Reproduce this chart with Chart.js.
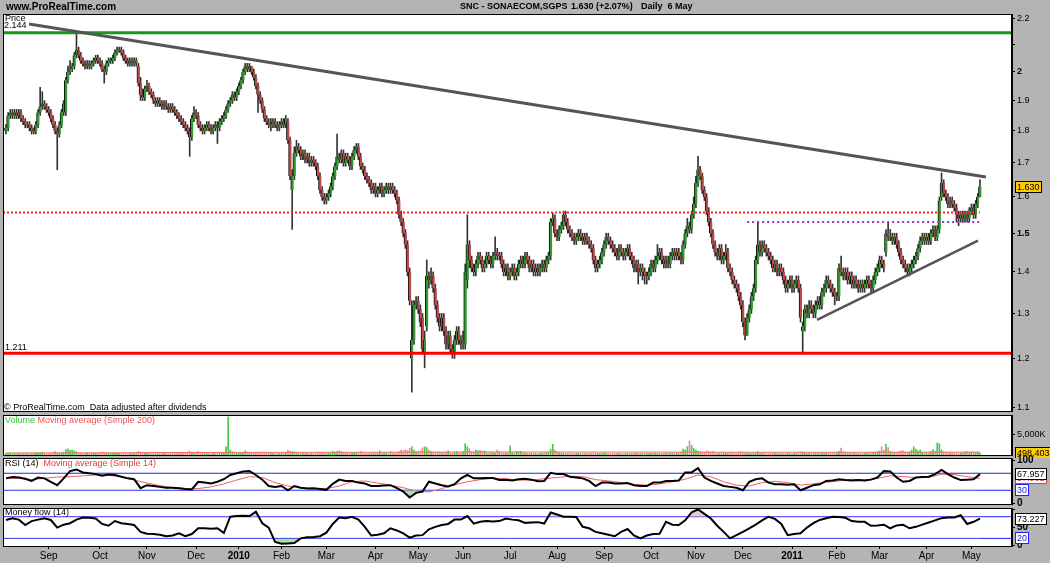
<!DOCTYPE html>
<html>
<head>
<meta charset="utf-8">
<script src="https://cdn.jsdelivr.net/npm/chart.js@4.4.1/dist/chart.umd.min.js"></script>
<style>
  body { margin: 0; width: 1050px; height: 563px; overflow: hidden; position: relative; background: #b4b4b4; font-family: "Liberation Sans", Arial, sans-serif; }
  canvas { position: absolute; left: 0; }
  .t { position: absolute; font-size: 9px; line-height: 1; white-space: nowrap; z-index: 5; }
  .b { font-weight: bold; font-size: 9px; }
</style>
</head>
<body>
<canvas id="price" width="1050" height="415" style="top:5px"></canvas>
<canvas id="volume" width="1050" height="46" style="top:412px"></canvas>
<canvas id="rsi" width="1050" height="52" style="top:455px"></canvas>
<canvas id="mf" width="1050" height="58" style="top:505px"></canvas>

<div class="t b" style="left:6px;top:2px;font-size:10px">www.ProRealTime.com</div>
<div class="t b" style="left:460px;top:2px">SNC - SONAECOM,SGPS</div>
<div class="t b" style="left:571px;top:2px">1.630 (+2.07%)</div>
<div class="t b" style="left:641px;top:2px">Daily&nbsp; 6 May</div>
<div class="t" style="left:5px;top:14px">Price</div>
<div class="t" style="left:4px;top:21px">2.144</div>
<div class="t" style="left:5px;top:343px">1.211</div>
<div class="t" style="left:4px;top:403px">© ProRealTime.com&nbsp; Data adjusted after dividends</div>
<div class="t" style="left:5px;top:416px"><span style="color:#33cc33">Volume</span> <span style="color:#ee5555">Moving average (Simple 200)</span></div>
<div class="t" style="left:5px;top:459px">RSI (14)&nbsp; <span style="color:#e04040">Moving average (Simple 14)</span></div>
<div class="t" style="left:5px;top:508px">Money flow (14)</div>
<div id="warn" class="t" style="left:300px;top:300px;color:red;font-size:14px"></div>

<script>
// daily candles, 31 Jul 2009 .. 6 May 2011 (index = trading day)
const opens = [
1.80,1.81,1.85,1.86,1.85,1.86,1.85,1.86,1.84,1.83,
1.82,1.82,1.81,1.80,1.80,1.82,1.86,1.88,1.89,1.88,
1.87,1.86,1.84,1.82,1.80,1.79,1.82,1.86,1.86,1.97,
2.00,2.01,2.02,2.06,2.08,2.06,2.04,2.03,2.02,2.03,
2.02,2.03,2.04,2.05,2.04,2.03,2.01,2.00,2.03,2.04,
2.04,2.05,2.07,2.08,2.08,2.07,2.05,2.04,2.03,2.04,
2.03,2.04,2.02,1.96,1.92,1.91,1.94,1.95,1.93,1.92,
1.90,1.89,1.90,1.89,1.88,1.89,1.88,1.87,1.88,1.87,
1.86,1.85,1.84,1.83,1.82,1.81,1.80,1.78,1.84,1.86,
1.85,1.82,1.81,1.80,1.81,1.82,1.81,1.80,1.81,1.82,
1.81,1.83,1.84,1.85,1.87,1.89,1.90,1.92,1.91,1.93,
1.95,1.97,2.00,2.02,2.01,2.02,2.00,1.98,1.95,1.92,
1.90,1.87,1.84,1.83,1.82,1.82,1.83,1.82,1.81,1.82,
1.83,1.82,1.83,1.77,1.62,1.66,1.73,1.75,1.74,1.72,
1.73,1.71,1.72,1.70,1.71,1.70,1.69,1.66,1.62,1.60,
1.59,1.60,1.61,1.63,1.66,1.69,1.72,1.71,1.73,1.70,
1.72,1.71,1.69,1.72,1.74,1.75,1.72,1.69,1.68,1.66,
1.65,1.64,1.62,1.63,1.61,1.62,1.63,1.61,1.62,1.63,
1.62,1.63,1.62,1.61,1.59,1.55,1.53,1.50,1.47,1.40,
1.20,1.24,1.32,1.33,1.31,1.29,1.21,1.27,1.39,1.38,
1.39,1.36,1.32,1.29,1.27,1.29,1.26,1.23,1.25,1.22,
1.21,1.24,1.26,1.24,1.23,1.23,1.38,1.47,1.43,1.41,
1.40,1.42,1.44,1.43,1.41,1.42,1.44,1.43,1.42,1.44,
1.45,1.44,1.44,1.42,1.40,1.41,1.39,1.40,1.41,1.39,
1.40,1.42,1.43,1.42,1.44,1.43,1.41,1.42,1.40,1.41,
1.40,1.41,1.42,1.41,1.43,1.44,1.53,1.54,1.50,1.49,
1.51,1.52,1.55,1.53,1.51,1.50,1.49,1.48,1.49,1.50,
1.49,1.48,1.49,1.48,1.47,1.46,1.43,1.41,1.42,1.43,
1.45,1.47,1.49,1.48,1.47,1.46,1.45,1.44,1.46,1.45,
1.44,1.45,1.46,1.44,1.43,1.41,1.42,1.40,1.41,1.40,
1.39,1.39,1.40,1.42,1.41,1.43,1.44,1.45,1.43,1.42,
1.43,1.42,1.44,1.45,1.44,1.45,1.44,1.43,1.47,1.50,
1.52,1.51,1.55,1.58,1.64,1.68,1.66,1.62,1.60,1.56,
1.53,1.50,1.47,1.45,1.44,1.46,1.43,1.44,1.45,1.41,
1.40,1.38,1.37,1.36,1.34,1.32,1.28,1.25,1.29,1.31,
1.34,1.36,1.43,1.47,1.45,1.47,1.46,1.45,1.44,1.43,
1.41,1.42,1.40,1.41,1.40,1.38,1.36,1.37,1.38,1.36,
1.37,1.38,1.36,1.26,1.27,1.31,1.30,1.32,1.31,1.30,
1.32,1.33,1.32,1.35,1.36,1.38,1.37,1.36,1.35,1.34,
1.34,1.41,1.40,1.39,1.40,1.38,1.39,1.37,1.38,1.37,
1.36,1.37,1.36,1.37,1.38,1.37,1.36,1.38,1.40,1.41,
1.43,1.42,1.45,1.50,1.49,1.49,1.48,1.49,1.47,1.45,
1.43,1.42,1.41,1.40,1.41,1.42,1.43,1.44,1.46,1.48,
1.49,1.48,1.49,1.48,1.50,1.51,1.49,1.51,1.60,1.64,
1.61,1.60,1.58,1.59,1.58,1.57,1.55,1.54,1.55,1.54,
1.55,1.54,1.56,1.57,1.55,1.58,1.60];
const highs = [
1.82,1.86,1.87,1.87,1.87,1.87,1.87,1.87,1.85,1.84,
1.83,1.83,1.82,1.81,1.83,1.87,1.945,1.93,1.90,1.89,
1.88,1.87,1.85,1.83,1.81,1.83,1.87,1.90,1.98,2.02,
2.04,2.03,2.07,2.144,2.09,2.07,2.05,2.04,2.04,2.04,
2.04,2.05,2.06,2.06,2.05,2.04,2.02,2.04,2.05,2.05,
2.06,2.08,2.09,2.09,2.09,2.08,2.06,2.05,2.05,2.05,
2.05,2.05,2.03,1.98,1.94,1.95,1.97,1.96,1.94,1.93,
1.91,1.91,1.91,1.90,1.90,1.90,1.89,1.89,1.89,1.88,
1.87,1.86,1.85,1.84,1.83,1.82,1.81,1.85,1.88,1.87,
1.86,1.83,1.82,1.82,1.83,1.83,1.82,1.82,1.83,1.83,
1.84,1.85,1.86,1.88,1.90,1.91,1.93,1.93,1.94,1.96,
1.98,2.01,2.03,2.03,2.03,2.02,2.01,1.99,1.96,1.93,
1.91,1.88,1.85,1.84,1.84,1.84,1.84,1.83,1.83,1.84,
1.84,1.85,1.84,1.78,1.68,1.75,1.77,1.76,1.75,1.74,
1.74,1.73,1.73,1.72,1.72,1.71,1.70,1.67,1.63,1.61,
1.61,1.62,1.64,1.67,1.70,1.79,1.73,1.74,1.74,1.73,
1.73,1.72,1.73,1.75,1.76,1.76,1.73,1.70,1.69,1.67,
1.66,1.65,1.64,1.64,1.63,1.64,1.64,1.63,1.64,1.64,
1.64,1.64,1.63,1.62,1.60,1.56,1.54,1.51,1.48,1.41,
1.33,1.33,1.34,1.34,1.32,1.30,1.26,1.43,1.40,1.41,
1.40,1.37,1.33,1.30,1.30,1.30,1.27,1.26,1.26,1.23,
1.25,1.27,1.27,1.25,1.26,1.42,1.55,1.48,1.44,1.42,
1.43,1.45,1.45,1.44,1.43,1.45,1.45,1.44,1.45,1.49,
1.46,1.45,1.45,1.43,1.42,1.42,1.41,1.42,1.42,1.41,
1.43,1.44,1.44,1.45,1.45,1.44,1.43,1.43,1.42,1.42,
1.42,1.43,1.43,1.44,1.45,1.54,1.555,1.55,1.51,1.52,
1.53,1.56,1.56,1.54,1.52,1.51,1.50,1.50,1.51,1.51,
1.50,1.50,1.50,1.49,1.48,1.47,1.44,1.43,1.44,1.46,
1.48,1.50,1.50,1.49,1.48,1.47,1.46,1.47,1.47,1.46,
1.46,1.47,1.47,1.45,1.44,1.43,1.43,1.42,1.42,1.41,
1.40,1.41,1.43,1.43,1.44,1.47,1.46,1.46,1.44,1.44,
1.44,1.45,1.46,1.46,1.46,1.46,1.45,1.48,1.51,1.54,
1.53,1.56,1.60,1.66,1.72,1.69,1.67,1.63,1.61,1.57,
1.54,1.51,1.48,1.46,1.47,1.47,1.45,1.47,1.46,1.42,
1.41,1.39,1.38,1.37,1.35,1.33,1.29,1.30,1.32,1.35,
1.37,1.44,1.53,1.48,1.48,1.48,1.47,1.46,1.45,1.44,
1.43,1.43,1.42,1.42,1.41,1.39,1.38,1.39,1.39,1.38,
1.39,1.39,1.37,1.28,1.32,1.32,1.33,1.33,1.32,1.33,
1.34,1.34,1.36,1.37,1.39,1.39,1.38,1.37,1.36,1.35,
1.42,1.44,1.41,1.41,1.41,1.40,1.40,1.39,1.39,1.38,
1.38,1.38,1.38,1.39,1.39,1.38,1.39,1.41,1.42,1.44,
1.44,1.43,1.51,1.53,1.51,1.50,1.50,1.50,1.48,1.46,
1.44,1.43,1.42,1.42,1.43,1.44,1.45,1.47,1.49,1.50,
1.50,1.50,1.50,1.51,1.52,1.52,1.52,1.60,1.67,1.65,
1.62,1.61,1.60,1.60,1.59,1.58,1.56,1.56,1.56,1.56,
1.56,1.57,1.58,1.58,1.59,1.61,1.65];
const lows = [
1.79,1.80,1.84,1.84,1.84,1.84,1.84,1.83,1.82,1.81,
1.81,1.80,1.79,1.79,1.79,1.81,1.85,1.87,1.87,1.86,
1.85,1.83,1.81,1.79,1.68,1.78,1.81,1.85,1.85,1.96,
1.99,2.00,2.01,2.05,2.05,2.03,2.02,2.01,2.01,2.01,
2.01,2.02,2.03,2.03,2.02,2.00,1.96,1.99,2.02,2.03,
2.03,2.04,2.06,2.07,2.06,2.04,2.03,2.02,2.02,2.02,
2.02,2.02,1.95,1.90,1.90,1.90,1.93,1.92,1.91,1.89,
1.88,1.88,1.88,1.87,1.87,1.87,1.86,1.86,1.86,1.85,
1.84,1.83,1.82,1.81,1.80,1.79,1.72,1.77,1.83,1.84,
1.81,1.80,1.79,1.79,1.80,1.80,1.79,1.79,1.80,1.76,
1.80,1.82,1.83,1.84,1.86,1.88,1.89,1.90,1.90,1.92,
1.94,1.96,1.99,2.00,2.00,1.99,1.97,1.94,1.86,1.89,
1.86,1.83,1.82,1.81,1.80,1.81,1.81,1.80,1.80,1.81,
1.81,1.81,1.76,1.65,1.51,1.65,1.72,1.73,1.71,1.71,
1.70,1.70,1.69,1.69,1.69,1.68,1.65,1.61,1.59,1.58,
1.58,1.59,1.60,1.62,1.65,1.68,1.70,1.70,1.69,1.69,
1.70,1.68,1.68,1.71,1.73,1.71,1.68,1.67,1.65,1.64,
1.63,1.61,1.61,1.60,1.60,1.61,1.60,1.60,1.61,1.61,
1.61,1.61,1.60,1.58,1.54,1.52,1.49,1.46,1.39,1.32,
1.13,1.23,1.31,1.30,1.27,1.21,1.18,1.26,1.36,1.37,
1.35,1.31,1.28,1.26,1.26,1.25,1.22,1.22,1.21,1.20,
1.20,1.23,1.23,1.22,1.22,1.22,1.36,1.41,1.40,1.39,
1.39,1.41,1.42,1.40,1.40,1.41,1.42,1.41,1.41,1.43,
1.43,1.43,1.41,1.39,1.39,1.38,1.38,1.39,1.38,1.38,
1.39,1.41,1.41,1.41,1.42,1.40,1.40,1.39,1.39,1.39,
1.39,1.40,1.40,1.40,1.42,1.43,1.52,1.49,1.48,1.48,
1.50,1.51,1.52,1.50,1.49,1.48,1.47,1.47,1.48,1.48,
1.47,1.47,1.47,1.46,1.45,1.42,1.40,1.40,1.41,1.42,
1.44,1.46,1.47,1.46,1.45,1.44,1.43,1.43,1.44,1.43,
1.43,1.44,1.43,1.42,1.40,1.40,1.37,1.39,1.38,1.37,
1.37,1.38,1.39,1.40,1.40,1.42,1.43,1.42,1.41,1.41,
1.41,1.41,1.43,1.43,1.43,1.43,1.42,1.42,1.46,1.49,
1.50,1.50,1.54,1.57,1.63,1.65,1.61,1.59,1.55,1.52,
1.49,1.46,1.44,1.43,1.43,1.42,1.42,1.43,1.40,1.39,
1.37,1.36,1.35,1.33,1.31,1.27,1.24,1.25,1.28,1.30,
1.33,1.35,1.42,1.44,1.44,1.45,1.44,1.43,1.42,1.40,
1.40,1.39,1.39,1.39,1.37,1.35,1.35,1.36,1.35,1.35,
1.36,1.35,1.28,1.21,1.26,1.29,1.29,1.30,1.29,1.29,
1.31,1.31,1.31,1.34,1.35,1.36,1.35,1.34,1.32,1.33,
1.33,1.39,1.38,1.38,1.37,1.37,1.36,1.36,1.36,1.35,
1.35,1.35,1.35,1.36,1.36,1.35,1.35,1.37,1.39,1.40,
1.41,1.40,1.44,1.48,1.48,1.47,1.47,1.46,1.44,1.42,
1.41,1.40,1.39,1.39,1.40,1.41,1.42,1.43,1.45,1.47,
1.47,1.47,1.47,1.47,1.49,1.48,1.48,1.50,1.59,1.60,
1.59,1.57,1.57,1.57,1.56,1.53,1.52,1.53,1.53,1.53,
1.53,1.53,1.55,1.54,1.54,1.57,1.60];
const closes = [
1.81,1.85,1.86,1.85,1.86,1.85,1.86,1.84,1.83,1.82,
1.82,1.81,1.80,1.80,1.82,1.86,1.88,1.89,1.88,1.87,
1.86,1.84,1.82,1.80,1.79,1.82,1.86,1.89,1.97,2.00,
2.01,2.02,2.06,2.08,2.06,2.04,2.03,2.02,2.03,2.02,
2.03,2.04,2.05,2.04,2.03,2.01,2.00,2.03,2.04,2.04,
2.05,2.07,2.08,2.08,2.07,2.05,2.04,2.03,2.04,2.03,
2.04,2.03,1.96,1.92,1.91,1.94,1.95,1.93,1.92,1.90,
1.89,1.90,1.89,1.88,1.89,1.88,1.87,1.88,1.87,1.86,
1.85,1.84,1.83,1.82,1.81,1.80,1.78,1.84,1.86,1.85,
1.82,1.81,1.80,1.81,1.82,1.81,1.80,1.81,1.82,1.81,
1.83,1.84,1.85,1.87,1.89,1.90,1.92,1.91,1.93,1.95,
1.97,2.00,2.02,2.01,2.02,2.00,1.98,1.95,1.92,1.90,
1.87,1.84,1.83,1.82,1.82,1.83,1.82,1.81,1.82,1.83,
1.82,1.84,1.77,1.66,1.66,1.73,1.75,1.74,1.72,1.73,
1.71,1.72,1.70,1.71,1.70,1.69,1.66,1.62,1.60,1.59,
1.60,1.61,1.63,1.66,1.69,1.72,1.71,1.73,1.70,1.72,
1.71,1.69,1.72,1.74,1.75,1.72,1.69,1.68,1.66,1.65,
1.64,1.62,1.63,1.61,1.62,1.63,1.61,1.62,1.63,1.62,
1.63,1.62,1.61,1.59,1.55,1.53,1.50,1.47,1.40,1.33,
1.24,1.32,1.33,1.31,1.28,1.22,1.24,1.39,1.38,1.39,
1.36,1.32,1.29,1.27,1.29,1.26,1.23,1.25,1.22,1.21,
1.24,1.26,1.24,1.23,1.24,1.40,1.47,1.43,1.41,1.40,
1.42,1.44,1.43,1.41,1.42,1.44,1.43,1.42,1.44,1.45,
1.44,1.44,1.42,1.40,1.41,1.39,1.40,1.41,1.39,1.40,
1.42,1.43,1.42,1.44,1.43,1.41,1.42,1.40,1.41,1.40,
1.41,1.42,1.41,1.43,1.44,1.53,1.54,1.50,1.49,1.51,
1.52,1.55,1.53,1.51,1.50,1.49,1.48,1.49,1.50,1.49,
1.48,1.49,1.48,1.47,1.46,1.43,1.41,1.42,1.43,1.45,
1.47,1.49,1.48,1.47,1.46,1.45,1.44,1.46,1.45,1.44,
1.45,1.46,1.44,1.43,1.41,1.42,1.40,1.41,1.40,1.39,
1.39,1.40,1.42,1.41,1.43,1.44,1.45,1.43,1.42,1.43,
1.42,1.44,1.45,1.44,1.45,1.44,1.43,1.47,1.50,1.52,
1.51,1.55,1.58,1.64,1.68,1.66,1.62,1.60,1.56,1.53,
1.50,1.47,1.45,1.44,1.46,1.43,1.44,1.45,1.41,1.40,
1.38,1.37,1.36,1.34,1.32,1.28,1.25,1.29,1.31,1.34,
1.36,1.43,1.47,1.45,1.47,1.46,1.45,1.44,1.43,1.41,
1.42,1.40,1.41,1.40,1.38,1.36,1.37,1.38,1.36,1.37,
1.38,1.36,1.29,1.27,1.31,1.30,1.32,1.31,1.30,1.32,
1.33,1.32,1.35,1.36,1.38,1.37,1.36,1.35,1.34,1.34,
1.41,1.40,1.39,1.40,1.38,1.39,1.37,1.38,1.37,1.36,
1.37,1.36,1.37,1.38,1.37,1.36,1.38,1.40,1.41,1.43,
1.42,1.41,1.50,1.49,1.49,1.48,1.49,1.47,1.45,1.43,
1.42,1.41,1.40,1.41,1.42,1.43,1.44,1.46,1.48,1.49,
1.48,1.49,1.48,1.50,1.51,1.49,1.51,1.59,1.64,1.61,
1.60,1.58,1.59,1.58,1.57,1.55,1.54,1.55,1.54,1.55,
1.54,1.56,1.57,1.55,1.58,1.60,1.63];

// volume, thousands of shares
const volumes = [
400,350,500,300,450,380,420,300,520,350,
400,300,450,380,600,550,480,700,400,350,
420,380,500,900,600,450,500,700,1300,1500,
1100,1200,1000,800,600,500,450,400,600,500,
350,400,450,380,500,700,600,450,400,350,
500,600,450,400,350,420,380,300,450,400,
350,500,900,700,600,500,450,400,380,420,
350,400,300,380,450,400,350,300,420,380,
400,450,500,600,550,700,1000,600,500,450,
900,500,400,350,420,380,300,400,350,450,
500,400,600,2000,9200,1200,800,600,500,450,
500,600,1000,700,500,450,600,700,500,450,
500,600,550,400,450,380,420,350,400,500,
450,600,1100,900,800,700,500,450,400,500,
450,400,350,420,380,400,600,700,500,450,
400,500,600,900,700,800,1000,800,600,500,
450,400,500,600,500,450,900,600,400,350,
400,450,380,500,600,1000,500,450,400,350,
800,500,450,600,800,1200,1000,1300,1100,1600,
2000,1200,800,900,1000,1700,2000,1800,1200,800,
700,600,800,700,600,500,700,1000,600,500,
700,900,600,500,800,2700,2000,1500,800,700,
1200,1000,1100,900,1000,600,500,700,600,500,
1200,700,500,450,600,500,2200,600,500,900,
800,900,600,500,450,400,500,450,400,350,
400,450,500,600,700,1400,2600,1200,800,600,
500,450,400,500,450,400,350,400,450,380,
400,350,450,400,500,600,500,450,400,350,
500,450,400,350,420,380,400,450,350,300,
400,350,450,400,500,450,400,350,500,450,
400,350,420,450,500,400,350,420,380,450,
400,500,450,400,500,600,700,1400,1200,2000,
3400,2300,1600,1200,900,800,700,600,1000,800,
700,900,600,500,450,600,500,450,400,500,
600,500,450,700,800,600,500,450,400,350,
500,600,800,500,450,400,350,420,380,400,
450,400,350,420,380,400,450,350,300,400,
350,500,800,700,500,450,400,500,450,400,
500,450,400,350,600,500,450,400,500,600,
900,1700,800,600,500,450,400,500,450,400,
350,400,450,400,500,450,600,700,800,1000,
2000,1200,2600,1800,900,700,600,500,800,1000,
1000,700,600,800,1200,2000,1400,1000,1200,700,
600,500,700,800,1300,900,2900,2700,1200,800,
600,500,450,600,500,450,400,500,600,700,
800,600,700,800,600,700,498];
const volMaStep = 19;
const volMa = [480,500,520,560,600,610,620,640,650,660,680,700,720,720,710,700,690,680,670,660,650,660,670,680,690];

// RSI(14) sampled every 3 days, its 14-day average every 6 days
const rsiStep = 3;
const rsiVals = [
58,61,60,57,52,60,58,50,42,58,
75,79,72,70,68,64,67,66,62,58,
56,35,42,40,38,36,36,35,33,32,
50,48,46,50,56,66,70,74,75,66,
55,40,38,40,30,40,36,34,35,33,
31,45,55,52,52,48,46,40,40,41,
42,35,27,13,24,27,50,46,42,39,
44,58,66,58,58,59,59,54,55,53,
56,57,55,51,52,71,68,68,62,60,
58,52,40,48,48,46,46,47,42,40,
40,48,48,52,52,53,72,72,82,60,
52,46,40,38,36,30,50,56,58,48,
44,44,43,44,30,36,42,44,52,53,
56,54,53,54,53,55,60,75,74,60,
50,52,60,61,62,68,78,68,60,54,
55,56,68];
const rsiMaStep = 6;
const rsiMa = [
58,58,55,58,61,62,64,66,65,62,
54,47,41,36,34,34,38,45,54,62,
60,48,40,36,33,34,40,50,52,47,
42,36,28,26,34,43,50,55,58,57,
54,54,57,60,63,62,55,52,48,44,
42,45,50,56,66,62,50,42,40,48,
51,48,42,45,49,52,56,54,58,64,
62,60,60,68,67,62,58];

// Money flow(14) sampled every 3 days
const mfStep = 3;
const mfVals = [
71,76,72,57,68,72,76,71,50,58,
62,72,78,77,75,60,55,68,62,60,
57,38,33,32,30,26,28,34,26,32,
48,48,47,48,35,80,82,83,82,94,
62,50,10,5,6,7,20,23,24,26,
36,60,78,76,80,72,52,28,30,34,
48,42,34,22,28,29,45,52,57,60,
72,72,82,61,66,68,67,68,75,72,
70,63,64,65,61,92,86,80,80,79,
52,48,38,34,30,26,38,46,28,20,
28,32,33,66,58,57,70,92,100,88,
75,55,38,20,29,38,48,58,70,80,
74,60,29,32,34,50,62,71,76,80,
79,77,68,66,66,55,56,58,48,56,
58,48,52,58,64,70,76,78,78,84,
60,66,75];

const lastClose = 1.630, lastVolume = 498403, lastRsi = 67.957, lastMf = 73.227;

// reference levels and trend lines
const resistancePrice = 2.144, supportPrice = 1.211;
const dottedRedPrice = 1.556;
const dottedPurplePrice = 1.530, dottedPurpleFrom = 347, dottedPurpleTo = 456;
const upperTrendIdx = [10.8, 458.8], upperTrendPrice = [2.178, 1.658];
const lowerTrendIdx = [379.7, 455.1], lowerTrendPrice = [1.285, 1.480];

const priceTicks = [2.2, 2.1, 2, 1.9, 1.8, 1.7, 1.6, 1.5, 1.4, 1.3, 1.2, 1.1];
const priceTickLabels = ['2.2', '', '2', '1.9', '1.8', '1.7', '1.6', '1.5', '1.4', '1.3', '1.2', '1.1'];
const monthTickIdx = [20, 44, 66, 89, 109, 129, 150, 173, 193, 214, 236, 258, 280, 302, 323, 345, 368, 389, 409, 431, 452];
const monthLabels = ['Sep', 'Oct', 'Nov', 'Dec', '2010', 'Feb', 'Mar', 'Apr', 'May', 'Jun', 'Jul', 'Aug', 'Sep', 'Oct', 'Nov', 'Dec', '2011', 'Feb', 'Mar', 'Apr', 'May'];
const rsiTicks = [0, 100], rsiTickLabels = ['0', '100'];
const mfTicks = [0, 50, 100], mfTickLabels = ['0', '50', ''];

const lens = [opens.length, highs.length, lows.length, closes.length, volumes.length];
if (new Set(lens).size > 1) document.getElementById('warn').textContent = 'length mismatch ' + lens.join(',');

Chart.defaults.font.family = '"Liberation Sans", Arial, sans-serif';
Chart.defaults.font.size = 9;
Chart.defaults.color = '#000';

const X_MIN = -1.4, X_MAX = 471;
const idx = closes.map((_, i) => i);
const up = i => closes[i] >= opens[i];

// white panel, black frame, value boxes on the right axis
const panelPlugin = {
  id: 'panel',
  beforeDraw(chart) {
    const { ctx, chartArea: a } = chart;
    ctx.save();
    ctx.fillStyle = '#fff';
    ctx.fillRect(a.left, a.top, a.right - a.left, a.bottom - a.top);
    ctx.restore();
  },
  afterDraw(chart, args, opts) {
    const { ctx, chartArea: a } = chart;
    ctx.save();
    ctx.strokeStyle = '#000';
    ctx.lineWidth = 1;
    ctx.strokeRect(a.left + 0.5, a.top + 0.5, a.right - a.left - 1, a.bottom - a.top);
    (opts.badges || []).forEach(b => {
      let y = chart.scales.y.getPixelForValue(b.value);
      if (b.maxY) y = Math.min(y, b.maxY);
      ctx.font = '9px "Liberation Sans", Arial, sans-serif';
      const w = Math.round(ctx.measureText(b.text).width) + 4;
      const x = a.right + 3;
      ctx.fillStyle = b.fill;
      ctx.fillRect(x, Math.round(y) - 6, w, 12);
      ctx.strokeStyle = b.stroke;
      ctx.strokeRect(x + 0.5, Math.round(y) - 5.5, w - 1, 11);
      ctx.fillStyle = b.color;
      ctx.textBaseline = 'middle';
      ctx.fillText(b.text, x + 2, Math.round(y) + 0.5);
    });
    ctx.restore();
  }
};

const xScale = (display) => ({
  type: 'linear', min: X_MIN, max: X_MAX, display, offset: false,
  position: 'bottom',
  afterBuildTicks: s => { s.ticks = monthTickIdx.map(v => ({ value: v })); },
  afterFit: s => { s.height = display ? 17 : 0; s.paddingLeft = 0; s.paddingRight = 0; },
  ticks: {
    autoSkip: false, maxRotation: 0, padding: 1,
    callback: (v, i) => monthLabels[i],
    font: c => ({ size: 10, weight: (c.tick && (c.tick.value === 109 || c.tick.value === 368)) ? 'bold' : 'normal' })
  },
  grid: { drawOnChartArea: false, offset: false, tickLength: 3, color: '#000' },
  border: { display: true, color: '#000' }
});

const yScale = (extra) => Object.assign({
  position: 'right',
  afterFit: s => { s.width = 38; s.paddingTop = 0; s.paddingBottom = 0; },
  grid: { drawOnChartArea: false, tickLength: 3, color: '#000' },
  border: { display: true, color: '#000' }
}, extra);

const hline = (y, from, to, color, width, dash) => ({
  type: 'line', data: [{ x: from, y }, { x: to, y }],
  borderColor: color, borderWidth: width, borderDash: dash || [], pointRadius: 0, fill: false
});

const baseOpts = (pad) => ({
  responsive: false, animation: false, events: [],
  devicePixelRatio: 1,
  layout: { padding: pad },
  plugins: { legend: { display: false }, tooltip: { enabled: false } }
});

// ---- price panel
const priceOpts = baseOpts({ left: 3, right: 0, top: 9, bottom: 9 });
priceOpts.scales = {
  x: xScale(false),
  y: yScale({
    type: 'logarithmic', min: 1.0926, max: 2.2169,
    afterBuildTicks: s => { s.ticks = priceTicks.map(v => ({ value: v })); },
    ticks: {
      autoSkip: false, padding: 2,
      callback: (v, i) => priceTickLabels[i],
      font: c => ({ size: 9, weight: (c.tick && (c.tick.value === 2 || c.tick.value === 1.5)) ? 'bold' : 'normal' })
    }
  })
};
priceOpts.plugins.panel = { badges: [{ value: lastClose, text: lastClose.toFixed(3), fill: '#ffcc00', stroke: '#000', color: '#000' }] };

new Chart(document.getElementById('price'), {
  type: 'bar',
  data: {
    datasets: [
      { type: 'line', data: upperTrendIdx.map((x, k) => ({ x, y: upperTrendPrice[k] })), borderColor: '#555', borderWidth: 3, pointRadius: 0 },
      { type: 'line', data: lowerTrendIdx.map((x, k) => ({ x, y: lowerTrendPrice[k] })), borderColor: '#555', borderWidth: 2.5, pointRadius: 0 },
      hline(dottedPurplePrice, dottedPurpleFrom, dottedPurpleTo, '#9933cc', 2, [2, 3]),
      hline(dottedRedPrice, X_MIN, 456, '#ff2020', 2, [2, 2]),
      hline(resistancePrice, X_MIN, X_MAX, '#1a961a', 3),
      hline(supportPrice, X_MIN, X_MAX, '#ff0000', 3),
      {
        data: idx.map(i => ({ x: i, y: [opens[i], closes[i]] })),
        backgroundColor: idx.map(i => up(i) ? '#2f9e2f' : '#c04848'),
        borderColor: '#111', borderWidth: { left: 1, right: 0, top: 0, bottom: 0 }, borderSkipped: false,
        barThickness: 3, minBarLength: 1, grouped: false
      },
      {
        data: idx.map(i => ({ x: i, y: [lows[i], highs[i]] })),
        backgroundColor: '#333', barThickness: 1, grouped: false
      }
    ]
  },
  options: priceOpts,
  plugins: [panelPlugin]
});

// ---- volume panel
const volOpts = baseOpts({ left: 3, right: 0, top: 3, bottom: 3 });
volOpts.scales = {
  x: xScale(false),
  y: yScale({
    type: 'linear', min: 0, max: 9660000,
    afterBuildTicks: s => { s.ticks = [{ value: 5000000 }]; },
    ticks: { autoSkip: false, padding: 2, callback: () => '5,000K' }
  })
};
volOpts.plugins.panel = { badges: [{ value: lastVolume, maxY: 448, text: lastVolume.toLocaleString('en-US'), fill: '#ffcc00', stroke: '#000', color: '#000' }] };

new Chart(document.getElementById('volume'), {
  type: 'bar',
  data: {
    datasets: [
      { type: 'line', data: volMa.map((v, k) => ({ x: k * volMaStep, y: v * 1000 })), borderColor: '#f07070', borderWidth: 1, pointRadius: 0 },
      {
        data: idx.map(i => ({ x: i, y: volumes[i] * 1000 })),
        backgroundColor: idx.map(i => up(i) ? '#44cc44' : '#f08c8c'),
        barThickness: 1, grouped: false
      }
    ]
  },
  options: volOpts,
  plugins: [panelPlugin]
});

// ---- RSI panel
const rsiOpts = baseOpts({ left: 3, right: 0, top: 3, bottom: 3 });
rsiOpts.scales = {
  x: xScale(false),
  y: yScale({
    type: 'linear', min: -2.3, max: 105.9,
    afterBuildTicks: s => { s.ticks = rsiTicks.map(v => ({ value: v })); },
    ticks: { autoSkip: false, padding: 2, callback: (v, i) => rsiTickLabels[i], font: { size: 10, weight: 'bold' } }
  })
};
rsiOpts.plugins.panel = { badges: [
  { value: rsiMa[rsiMa.length - 1], text: '57.981', fill: '#fff', stroke: '#e04040', color: '#e04040' },
  { value: lastRsi, text: lastRsi.toFixed(3), fill: '#fff', stroke: '#000', color: '#000' },
  { value: 30, text: '30', fill: '#fff', stroke: '#2020ff', color: '#2020ff' }
] };

new Chart(document.getElementById('rsi'), {
  type: 'line',
  data: {
    datasets: [
      {
        data: rsiVals.map((v, k) => ({ x: k * rsiStep, y: v })),
        borderColor: '#000', borderWidth: 2, pointRadius: 0,
        fill: { target: { value: 30 }, above: 'rgba(0,0,0,0)', below: 'rgba(150,215,150,0.8)' }
      },
      { data: rsiMa.map((v, k) => ({ x: k * rsiMaStep, y: v })), borderColor: '#f06060', borderWidth: 1, pointRadius: 0, fill: false },
      hline(70, X_MIN, X_MAX, '#2020ff', 1),
      hline(30, X_MIN, X_MAX, '#2020ff', 1)
    ]
  },
  options: rsiOpts,
  plugins: [panelPlugin]
});

// ---- Money flow panel (carries the date axis)
const mfOpts = baseOpts({ left: 3, right: 0, top: 3, bottom: 0 });
mfOpts.scales = {
  x: xScale(true),
  y: yScale({
    type: 'linear', min: -1.1, max: 104.2,
    afterBuildTicks: s => { s.ticks = mfTicks.map(v => ({ value: v })); },
    ticks: { autoSkip: false, padding: 2, callback: (v, i) => mfTickLabels[i], font: { size: 10, weight: 'bold' } }
  })
};
mfOpts.plugins.panel = { badges: [
  { value: lastMf, text: lastMf.toFixed(3), fill: '#fff', stroke: '#000', color: '#000' },
  { value: 20, text: '20', fill: '#fff', stroke: '#2020ff', color: '#2020ff' }
] };

const mfPoints = mfVals.map((v, k) => ({ x: k * mfStep, y: v }));
new Chart(document.getElementById('mf'), {
  type: 'line',
  data: {
    datasets: [
      {
        data: mfPoints, borderColor: '#000', borderWidth: 2, pointRadius: 0,
        fill: { target: { value: 20 }, above: 'rgba(0,0,0,0)', below: 'rgba(150,215,150,0.8)' }
      },
      {
        data: mfPoints, borderWidth: 0, pointRadius: 0,
        fill: { target: { value: 80 }, above: 'rgba(225,190,200,0.8)', below: 'rgba(0,0,0,0)' }
      },
      hline(80, X_MIN, X_MAX, '#2020ff', 1),
      hline(20, X_MIN, X_MAX, '#2020ff', 1)
    ]
  },
  options: mfOpts,
  plugins: [panelPlugin]
});
</script>
</body>
</html>
